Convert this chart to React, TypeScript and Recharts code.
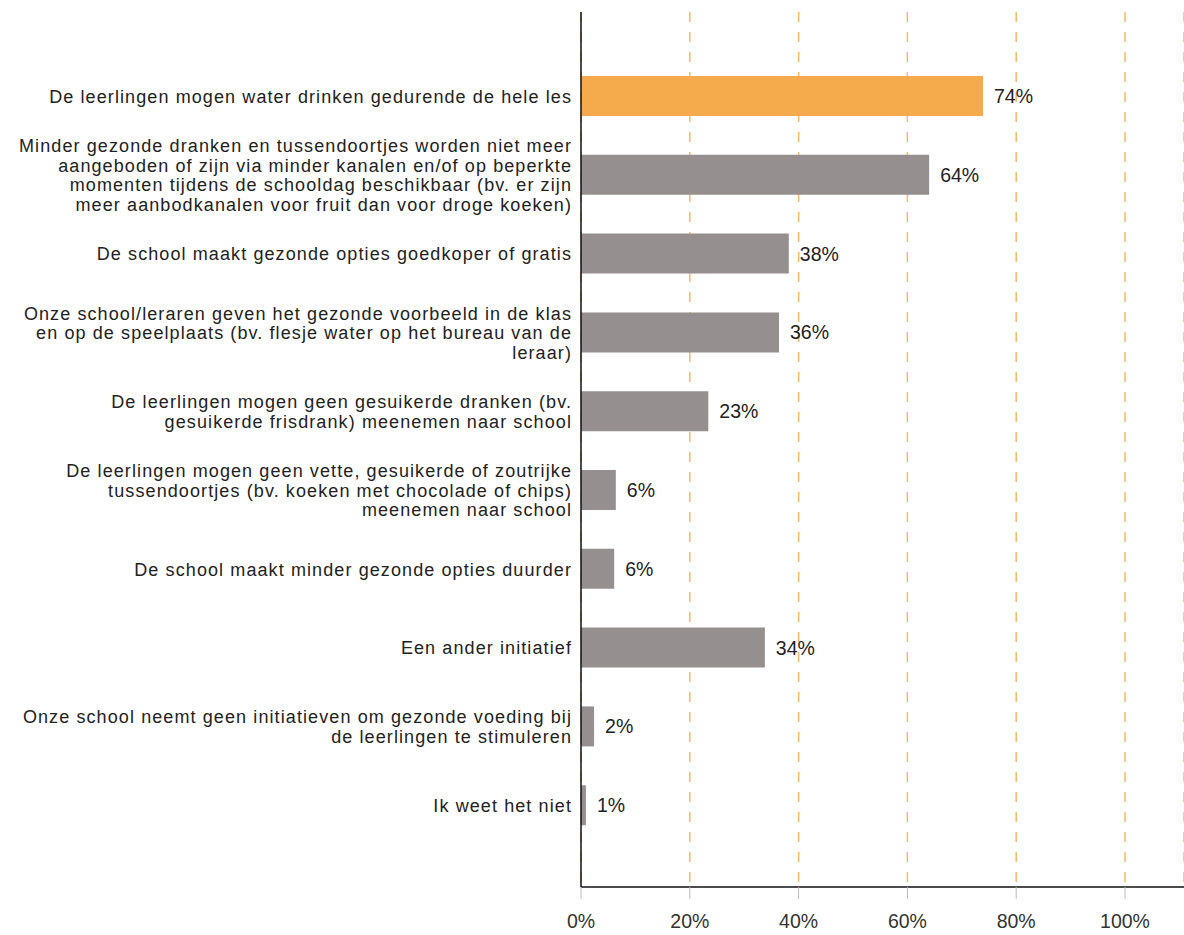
import React from "react";
import {
  BarChart,
  Bar,
  XAxis,
  YAxis,
  CartesianGrid,
  Cell,
  LabelList,
} from "recharts";

const CATEGORIES = [
  "De leerlingen mogen water drinken gedurende de hele les",
  "Minder gezonde dranken en tussendoortjes worden niet meer\naangeboden of zijn via minder kanalen en/of op beperkte\nmomenten tijdens de schooldag beschikbaar (bv. er zijn\nmeer aanbodkanalen voor fruit dan voor droge koeken)",
  "De school maakt gezonde opties goedkoper of gratis",
  "Onze school/leraren geven het gezonde voorbeeld in de klas\nen op de speelplaats (bv. flesje water op het bureau van de\nleraar)",
  "De leerlingen mogen geen gesuikerde dranken (bv.\ngesuikerde frisdrank) meenemen naar school",
  "De leerlingen mogen geen vette, gesuikerde of zoutrijke\ntussendoortjes (bv. koeken met chocolade of chips)\nmeenemen naar school",
  "De school maakt minder gezonde opties duurder",
  "Een ander initiatief",
  "Onze school neemt geen initiatieven om gezonde voeding bij\nde leerlingen te stimuleren",
  "Ik weet het niet",
];

// percentages as shown (labels are rounded)
const VALUES = [73.9, 64.0, 38.2, 36.4, 23.4, 6.4, 6.1, 33.8, 2.4, 0.9];

const X_TICKS = [0, 20, 40, 60, 80, 100];

const HIGHLIGHT = "#f5ab4b";
const GREY = "#95908f";
const FONT = "'Liberation Sans', Arial, sans-serif";

const data = CATEGORIES.map((name, i) => ({ name, value: VALUES[i] }));

function CategoryTick(props: any) {
  const { x, y, payload } = props;
  const lines: string[] = String(payload.value).split("\n");
  const lh = 19.6;
  const startY = y - ((lines.length - 1) * lh) / 2;
  return (
    <text
      x={x}
      y={startY}
      textAnchor="end"
      fill="#222"
      fontSize={18}
      letterSpacing={1.1}
      fontFamily={FONT}
    >
      {lines.map((l, i) => (
        <tspan key={i} x={x} y={startY + i * lh} dy="0.35em">
          {l}
        </tspan>
      ))}
    </text>
  );
}

export default function App() {
  return (
    <div style={{ position: "absolute", left: 0, top: 0, width: 1184, height: 935, background: "#fff" }}>
      <BarChart
        width={1184}
        height={935}
        data={data}
        layout="vertical"
        margin={{ top: 12, right: 0, left: 0, bottom: 0 }}
      >
        <CartesianGrid
          horizontal={false}
          stroke="#f8b868"
          strokeWidth={1.5}
          strokeDasharray="10 10"
        />
        <XAxis
          type="number"
          domain={[0, 100]}
          ticks={X_TICKS}
          padding={{ left: 0, right: 59 }}
          tickFormatter={(v) => `${v}%`}
          height={48}
          tickSize={12}
          tickMargin={15}
          axisLine={{ stroke: "#111", strokeWidth: 1.5 }}
          tickLine={{ stroke: "#bbb" }}
          tick={{ fill: "#333", fontSize: 19.5, fontFamily: FONT }}
        />
        <YAxis
          type="category"
          dataKey="name"
          width={581}
          padding={{ top: 45, bottom: 42 }}
          tickLine={false}
          tickMargin={3}
          axisLine={{ stroke: "#111", strokeWidth: 1.5 }}
          tick={<CategoryTick />}
          interval={0}
        />
        <Bar dataKey="value" barSize={40} isAnimationActive={false}>
          {data.map((_, i) => (
            <Cell key={i} fill={i === 0 ? HIGHLIGHT : GREY} />
          ))}
          <LabelList
            dataKey="value"
            position="right"
            offset={11}
            formatter={(v: any) => `${Math.round(Number(v))}%`}
            style={{ fill: "#222", fontSize: 19.5, fontFamily: FONT }}
          />
        </Bar>
      </BarChart>
    </div>
  );
}
